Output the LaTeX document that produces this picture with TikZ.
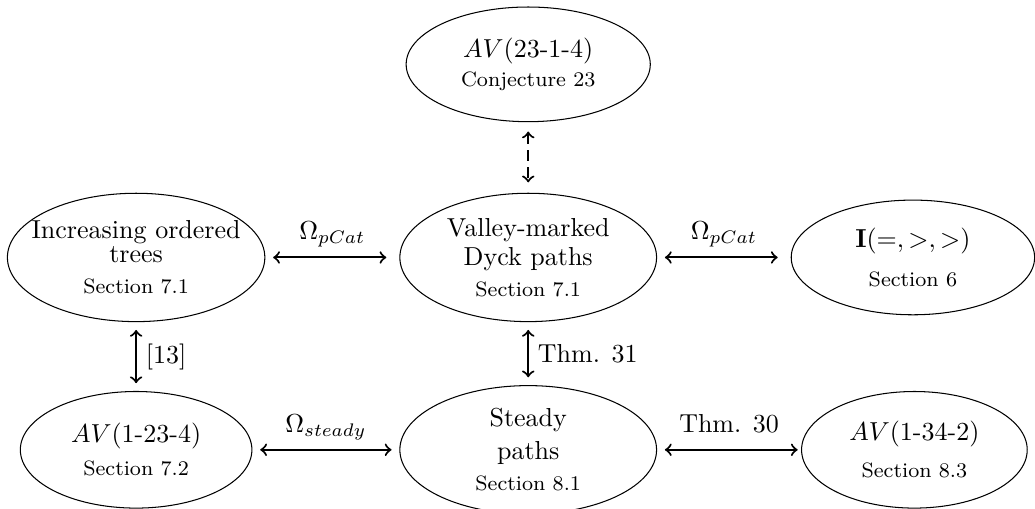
\documentclass[tikz,border=0pt]{standalone}
\usetikzlibrary{shapes.geometric}

\begin{document}
\begin{tikzpicture}[
    blob/.style={draw, ellipse, inner sep=0pt},
    txt/.style={align=center},
    link/.style={thick, <->, shorten <=3pt, shorten >=3pt},
    lab/.style={above, text depth=3pt}
]
    \useasboundingbox (-7.14,-3.40) rectangle (6.85,3.48);

    % top row
    \node[blob, minimum width=3.30cm, minimum height=1.55cm,
        label={[txt]center:{$AV$(23-1-4)\\[-1.2pt]{\footnotesize Conjecture 23}}}] (conj) at (0,2.61) {};

    % middle row
    \node[blob, minimum width=3.48cm, minimum height=1.735cm,
        label={[txt]center:{Increasing ordered\\[-2.8pt]trees\\{\footnotesize Section 7.1}}}] (iot) at (-5.30,0) {};
    \node[blob, minimum width=3.47cm, minimum height=1.735cm,
        label={[txt]center:{Valley-marked\\[-0.8pt]Dyck paths\\{\footnotesize Section 7.1}}}] (vmd) at (0,0) {};
    \node[blob, minimum width=3.29cm, minimum height=1.55cm,
        label={[txt]center:{$\mathbf{I}(=,>,>)$\\[2.7pt]{\footnotesize Section 6}}}] (ineq) at (5.20,0) {};

    % bottom row
    \node[blob, minimum width=3.13cm, minimum height=1.576cm,
        label={[txt]center:{$AV$(1-23-4)\\[0.7pt]{\footnotesize Section 7.2}}}] (avl) at (-5.30,-2.60) {};
    \node[blob, minimum width=3.47cm, minimum height=1.735cm,
        label={[txt]center:{Steady\\[0.5pt]paths\\[0.3pt]{\footnotesize Section 8.1}}}] (steady) at (0,-2.60) {};
    \node[blob, minimum width=3.05cm, minimum height=1.576cm,
        label={[txt]center:{$AV$(1-34-2)\\[2.1pt]{\footnotesize Section 8.3}}}] (avr) at (5.22,-2.60) {};

    \draw[link, dash pattern=on 4pt off 2.5pt, shorten <=3.6pt, shorten >=4pt] (conj) -- (vmd);

    \draw[link, shorten >=5pt] (iot) -- node[lab] {$\Omega_{pCat}$} (vmd);
    \draw[link, shorten <=5pt] (ineq) -- node[lab] {$\Omega_{pCat}$} (vmd);

    \draw[link] (iot) -- node[right] {[13]} (avl);
    \draw[link] (vmd) -- node[right] {Thm. 31} (steady);

    \draw[link] (avl) -- node[lab] {$\Omega_{steady}$} (steady);
    \draw[link, shorten >=1.3pt] (steady) -- node[lab] {Thm. 30} (avr);

\end{tikzpicture}
\end{document}
